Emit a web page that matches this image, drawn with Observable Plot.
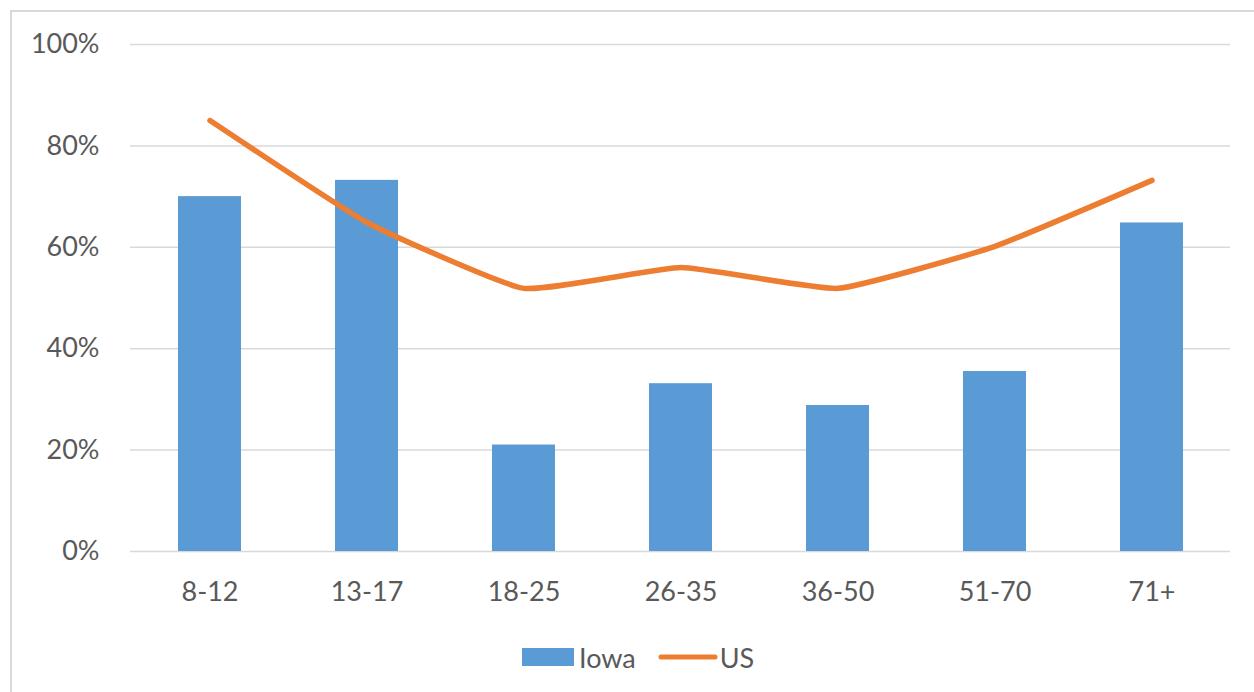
<!DOCTYPE html>
<html>
<head>
<meta charset="utf-8">
<script src="https://cdn.jsdelivr.net/npm/d3@7"></script>
<script src="https://cdn.jsdelivr.net/npm/@observablehq/plot@0.6"></script>
<style>
  html, body { margin: 0; padding: 0; background: #fff; width: 1254px; height: 692px; overflow: hidden; }
  #frame { position: absolute; left: 10px; top: 10px; width: 1400px; height: 900px; border: 2px solid #d9d9d9; box-sizing: border-box; }
  #chart { position: absolute; left: 0; top: 0; }
  #legend { position: absolute; left: 522px; top: 640px; height: 34px; display: flex; align-items: center; font-family: Lato, "Open Sans", sans-serif; font-size: 27px; color: #595959; }
  #legend .sw { display: inline-block; width: 52px; height: 18px; background: #5B9BD5; margin-right: 5px; }
  #legend .ln { display: inline-block; width: 60px; height: 6px; margin-left: 22px; margin-right: 2px; }
</style>
</head>
<body>
<div id="frame"></div>
<div id="chart"></div>
<div id="legend">
  <span class="sw"></span><span>Iowa</span>
  <svg class="ln" width="60" height="6"><line x1="3" y1="3" x2="57" y2="3" stroke="#ED7D31" stroke-width="5" stroke-linecap="round"/></svg><span>US</span>
</div>
<script>
const categories = ["8-12", "13-17", "18-25", "26-35", "36-50", "51-70", "71+"];
const iowa = [0.70, 0.732, 0.21, 0.331, 0.288, 0.355, 0.648];
const us = [0.85, 0.649, 0.519, 0.56, 0.519, 0.602, 0.732];
const yTicks = [0, 0.2, 0.4, 0.6, 0.8, 1.0];

const rows = categories.map((c, i) => ({cat: c, iowa: iowa[i], us: us[i]}));

const chart = Plot.plot({
  width: 1254,
  height: 620,
  marginLeft: 130,
  marginRight: 24,
  marginTop: 44,
  marginBottom: 69,
  style: {fontFamily: "Lato, 'Open Sans', sans-serif", fontSize: "27px", color: "#595959", background: "transparent"},
  x: {type: "band", domain: categories, paddingInner: 0.6, paddingOuter: 0.3, label: null},
  y: {domain: [0, 1], label: null},
  marks: [
    Plot.ruleY(yTicks, {stroke: "#d9d9d9", strokeWidth: 1.5}),
    Plot.barY(rows, {x: "cat", y: "iowa", fill: "#5B9BD5"}),
    Plot.line(rows, {x: "cat", y: "us", stroke: "#ED7D31", strokeWidth: 5.5, curve: "cardinal", tension: 0.6, strokeLinecap: "round", strokeLinejoin: "round"}),
    Plot.axisY({ticks: yTicks, tickFormat: d => Math.round(d * 100) + "%", tickSize: 0, tickPadding: 31, fill: "#595959", label: null}),
    Plot.axisX({tickSize: 0, tickPadding: 30, fill: "#595959", label: null})
  ]
});
document.getElementById("chart").appendChild(chart);
</script>
</body>
</html>
